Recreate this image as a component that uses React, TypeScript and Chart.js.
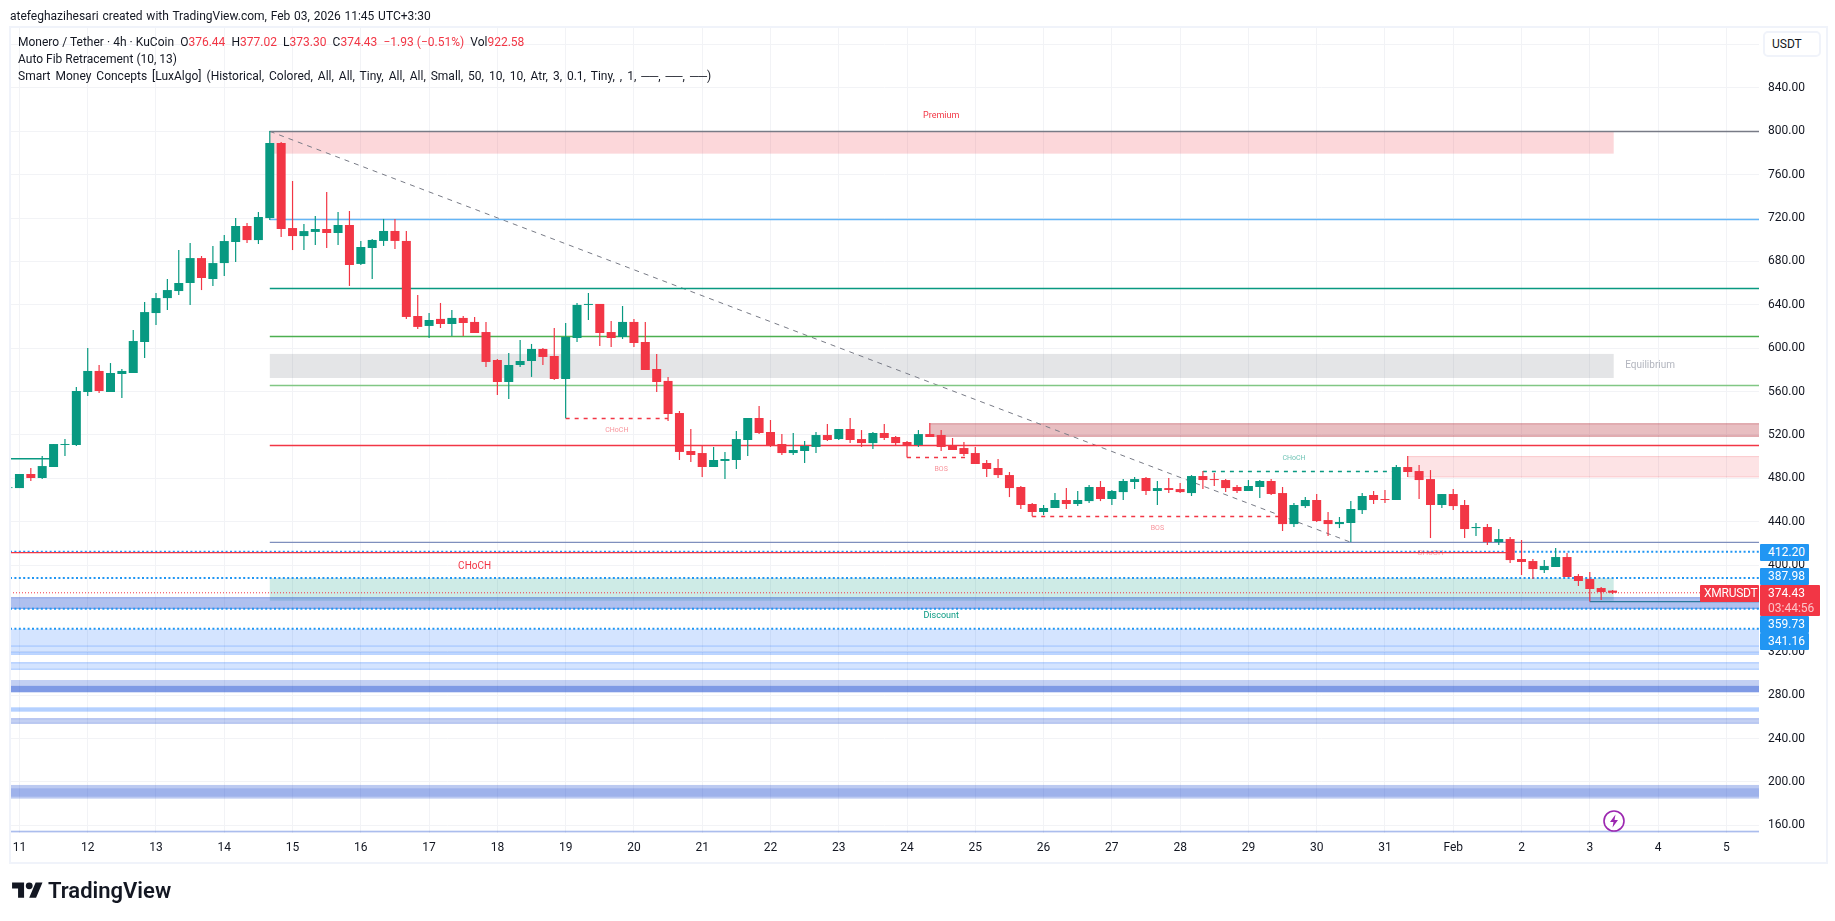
import { useEffect, useRef } from 'react'
import { Chart, registerables } from 'chart.js'

Chart.register(...registerables)

const FONT = "Roboto, 'Noto Sans', sans-serif"
const UP = '#089981'
const DOWN = '#F23645'

// 4h candles, first one sits just left of the "11" tick
const firstBar = -1
const opens = [471, 471, 484, 480.3, 490.4, 510.7, 510.7, 559.6, 579, 559.6, 576.2, 577.1, 605.7, 632.4, 646.2, 652.7, 660.1, 683.1, 663.8, 678.5, 697.9, 712.7, 699.7, 720, 789.2, 710.8, 703.4, 707.2, 709.9, 706.2, 713.6, 677.7, 692.4, 698.9, 708.1, 698.9, 629.7, 620.5, 627, 622.3, 627.9, 624.2, 614.9, 589.1, 568.8, 584.5, 588.2, 599.3, 592.8, 571.6, 609.4, 639.9, 640.8, 614.9, 610.3, 624.2, 605.7, 580.8, 569.8, 540.2, 505.2, 503.3, 490.4, 496, 496.9, 515.3, 535.6, 522.7, 511.6, 503.3, 505.2, 508.9, 519.9, 516.2, 525.5, 516.2, 512.5, 521.8, 518.1, 513.5, 510.7, 520.8, 519.9, 510.4, 507.9, 503.3, 494.1, 489.5, 483, 472, 456.3, 448.9, 452.6, 460, 456.3, 459, 472, 460.9, 467.3, 476.6, 480.3, 468.3, 471, 470.1, 466.4, 482.1, 479.3, 478.4, 472, 468.3, 472, 477.5, 466.4, 437.8, 454.4, 460, 441.5, 437.8, 438.8, 450.7, 464.6, 460.9, 460, 490.4, 486.7, 479.3, 455.4, 465.5, 455.4, 434.1, 435.1, 421.2, 424, 405.6, 403.7, 395.4, 398.2, 407.4, 389.9, 387.1, 378.8, 376.44]
const highs = [472, 484, 489.5, 500.5, 511.6, 516.2, 564.2, 600.1, 584.5, 586.3, 580.8, 616.7, 642.6, 650.9, 663.8, 690.5, 697, 685, 694.2, 704.4, 720, 715.4, 725.6, 800.3, 790.1, 754.2, 714.5, 721.9, 744.1, 725.6, 726.5, 698.9, 700.7, 719.2, 719.2, 708.1, 649.1, 632.5, 641.7, 635.2, 629.7, 628.8, 624.2, 590, 595.6, 607.6, 603.9, 600.2, 618.6, 623.2, 641.7, 650.9, 640.8, 625.1, 638.9, 627, 624.2, 594.7, 573.5, 542.1, 525.5, 509.8, 508.9, 504.2, 523.6, 535.6, 546.7, 533.8, 520.8, 521.8, 514.4, 522.7, 530.1, 525.5, 535.6, 524.5, 522.7, 530.1, 519, 514.4, 524.5, 531, 524.5, 517.2, 513.5, 508.9, 496.9, 497.8, 485.8, 472.9, 457.2, 455.4, 466.4, 471, 468.3, 473.8, 477.5, 469.2, 479.3, 481.2, 481.2, 477.5, 480.3, 475.6, 483, 486.7, 484.9, 479.3, 473.8, 478.4, 478.4, 479.3, 472, 457.2, 462.7, 465.5, 448.9, 444.3, 459, 466.4, 468.3, 469.2, 492.2, 500.5, 492.2, 487.6, 465.5, 470.1, 460, 438.8, 437.8, 433.2, 425.8, 423.1, 405.6, 404.6, 415.7, 411.1, 391.7, 393.6, 379.7, 377.02]
const lows = [471, 471, 477.5, 479.4, 490.4, 500.5, 509.8, 555.9, 558.7, 559.6, 554, 577.1, 590.9, 621.4, 635.2, 649, 639.8, 653.6, 657.3, 666.5, 679.5, 697, 696.1, 718.2, 702.5, 690.5, 690.5, 695.2, 692.4, 695.2, 657.4, 676.7, 663.8, 694.3, 691.5, 627, 617.7, 609.4, 618.6, 611.2, 611.2, 614, 582.7, 556.9, 553.2, 582.7, 573.5, 584.5, 570.7, 535.3, 605.7, 626, 602, 601.1, 608.5, 601.1, 579.9, 559.6, 532.9, 496.9, 495.1, 481.2, 490.4, 479.3, 488.6, 500.6, 520.8, 508.9, 501.5, 501.5, 494.1, 503.3, 514.4, 515.3, 512.5, 508.9, 507, 515.3, 510.7, 499.3, 508.9, 518.1, 505.2, 506.1, 500.6, 493.2, 481.2, 480.3, 462.7, 451.7, 445, 446.1, 452.6, 451.7, 454.4, 457.2, 459, 455.4, 460, 470.1, 464.6, 455.4, 466.4, 466.4, 463.7, 470.1, 472.9, 467.3, 466.4, 468.3, 461.8, 464.6, 431.4, 435.1, 452.6, 439.7, 426.8, 434.1, 421.2, 447.1, 456.3, 457.2, 460, 481.2, 460.9, 424.9, 452.6, 450.7, 424.9, 426.8, 418.5, 418.5, 401.9, 390.8, 387.1, 392.6, 398.2, 389, 380.7, 366.5, 367.7, 373.3]
const closes = [471.7, 484, 480.3, 491.3, 511.6, 511.6, 560.5, 579, 560.5, 577.1, 579, 606.6, 633.3, 646.2, 653.6, 660.1, 683.1, 664.7, 678.5, 698.8, 712.7, 699.7, 721, 789.2, 709.9, 703.4, 708, 709.9, 706.2, 713.6, 676.7, 693.3, 699.8, 708.1, 698.9, 628.8, 619.6, 626, 622.3, 627.9, 623.2, 614, 587.3, 568.8, 584.5, 588.2, 599.3, 591.9, 571.6, 610.3, 639.9, 640.8, 614, 609.4, 624.2, 604.8, 579.9, 568.8, 539.3, 504.3, 501.5, 490.4, 496.9, 497.8, 516.2, 535.6, 521.8, 510.7, 503.3, 506.1, 509.8, 519.9, 515.3, 525.5, 515.3, 512.5, 521.8, 517.2, 512.5, 510.7, 520.8, 518.1, 508.9, 506.1, 502.4, 493.2, 488.6, 483, 471, 455.4, 448.9, 452.6, 460, 456.3, 460, 472, 460.9, 468.3, 477.5, 479.3, 468.3, 471, 469.2, 467.3, 482.1, 478.4, 478.4, 471, 468.3, 472.9, 477.5, 465.5, 437.8, 455.4, 460, 440.6, 437.8, 439.7, 451.7, 463.7, 460, 460, 490.4, 485.8, 478.4, 455.4, 465.5, 454.4, 433.2, 435.1, 421.2, 424, 404.6, 402.8, 396.3, 399.1, 407.4, 389, 385.3, 377.9, 375.1, 374.43]

// time axis: one tick per day, six 4h bars apart
const dayTicks = [0, 6, 12, 18, 24, 30, 36, 42, 48, 54, 60, 66, 72, 78, 84, 90, 96, 102, 108, 114, 120, 126, 132, 138, 144, 150]
const dayLabels = ['11', '12', '13', '14', '15', '16', '17', '18', '19', '20', '21', '22', '23', '24', '25', '26', '27', '28', '29', '30', '31', 'Feb', '2', '3', '4', '5']
const priceTicks = [160, 200, 240, 280, 320, 360, 400, 440, 480, 520, 560, 600, 640, 680, 720, 760, 800, 840, 880]
const xMin = -0.83
const xMax = 152.87
const yMin = 152.9
const yMax = 896.2

// fib levels and structure lines
const fibPrices = [799.8, 718.7, 655, 610.8, 565.6, 510.2, 420.9]
const fibColors = ['#787b86', '#64b5f6', '#089981', '#4caf50', '#81c784', '#f23645', '#7f8fbd']
const dottedBlue = [412.2, 387.98, 359.73, 341.16]
const lastPrice = 374.43
const diagonalBars = [22, 117]
const diagonalPrices = [800, 421]
const redLineBars = [xMin, 130.7]
const redLinePrice = 411.5
const greenLineBars = [xMin, 3]
const greenLinePrice = 498.1
const swingLowBars = [138, xMax]
const swingLowPrice = 366.3

const dashStarts = [48, 78, 89, 104]
const dashEnds = [57, 83.4, 110.8, 121]
const dashPrices = [535.2, 499.2, 444.8, 486.3]
const dashColors = [DOWN, DOWN, DOWN, UP]

// shaded zones
const zoneStarts = [22, 22, 22, 80, 122, xMin, xMin, xMin, xMin, xMin, xMin, xMin, xMin, xMin, xMin, xMin, xMin, xMin]
const zoneEnds = [140.1, 140.1, 140.1, xMax, xMax, xMax, xMax, xMax, xMax, xMax, xMax, xMax, xMax, xMax, xMax, xMax, xMax, xMax]
const zoneTops = [800, 594.7, 388, 530.7, 500.5, 370.3, 341, 326, 320, 310.3, 294, 288.6, 268.8, 258.7, 197.2, 194.1, 155, 155]
const zoneBottoms = [779.4, 572.5, 367.1, 518.4, 480.9, 359.7, 317.3, 324.5, 317.3, 303.5, 282.7, 282.7, 264.8, 253.7, 184.6, 186.4, 153.5, 153.5]
const zoneFills = ['rgba(242,54,69,0.2)', 'rgba(120,123,134,0.2)', 'rgba(8,153,129,0.2)', 'rgba(178,40,51,0.3)', 'rgba(242,54,69,0.14)', 'rgba(33,80,210,0.36)', 'rgba(41,120,255,0.2)', 'rgba(41,120,255,0.2)', 'rgba(41,120,255,0.08)', 'rgba(41,120,255,0.2)', 'rgba(33,80,210,0.27)', 'rgba(33,80,210,0.42)', 'rgba(41,120,255,0.35)', 'rgba(33,80,210,0.27)', 'rgba(33,80,210,0.3)', 'rgba(33,80,210,0.2)', 'rgba(33,80,210,0.3)', 'rgba(33,80,210,0.1)']
const zoneBorders = ['', '', '', 'rgba(178,40,51,0.35)', 'rgba(242,54,69,0.15)', 'rgba(33,80,210,0.3)', '', '', 'rgba(41,120,255,0.2)', 'rgba(41,120,255,0.3)', '', '', '', 'rgba(33,80,210,0.2)', '', '', '', '']

const noteTexts = ['Premium', 'Equilibrium', 'Discount', 'CHoCH', 'BOS', 'BOS', 'CHoCH', 'CHoCH', 'CHoCH']
const noteBars = [81, 143.3, 81, 52.5, 81, 100, 40, 124, 112]
const notePrices = [814, 583.6, 353.3, 524.6, 488.3, 433.8, 398.5, 410.8, 498.4]
const noteColors = [DOWN, '#b2b5be', UP, 'rgba(242,54,69,0.55)', 'rgba(242,54,69,0.55)', 'rgba(242,54,69,0.55)', DOWN, 'rgba(242,54,69,0.45)', 'rgba(8,153,129,0.6)']
const noteSizes = [9, 10, 9, 7, 7, 7, 10, 8, 7]

const barIndex = opens.map((_, i) => firstBar + i)
const candleColors = opens.map((o, i) => (closes[i] >= o ? UP : DOWN))

function hline(x0: number, x1: number, y: number, color: string, extra = {}, order = 5) {
  return {
    type: 'line' as const,
    data: [{ x: x0, y }, { x: x1, y }],
    borderColor: color,
    borderWidth: 1.4,
    pointRadius: 0,
    order,
    ...extra,
  }
}

const zonesPlugin = {
  id: 'zones',
  beforeDatasetsDraw(chart: Chart) {
    const { ctx, chartArea, scales } = chart
    ctx.save()
    ctx.beginPath()
    ctx.rect(chartArea.left, chartArea.top, chartArea.width, chartArea.height)
    ctx.clip()
    zoneTops.forEach((top, i) => {
      const x0 = scales.x.getPixelForValue(zoneStarts[i])
      const x1 = scales.x.getPixelForValue(zoneEnds[i])
      const y0 = scales.y.getPixelForValue(top)
      const y1 = scales.y.getPixelForValue(zoneBottoms[i])
      ctx.fillStyle = zoneFills[i]
      ctx.fillRect(x0, y0, x1 - x0, y1 - y0)
      if (zoneBorders[i]) {
        ctx.fillStyle = zoneBorders[i]
        ctx.fillRect(x0, y0, x1 - x0, 1)
        ctx.fillRect(x0, y1 - 1, x1 - x0, 1)
      }
    })
    ctx.restore()
  },
  afterDatasetsDraw(chart: Chart) {
    const { ctx, scales } = chart
    ctx.save()
    ctx.textAlign = 'center'
    ctx.textBaseline = 'middle'
    noteTexts.forEach((text, i) => {
      ctx.font = `${noteSizes[i]}px ${FONT}`
      ctx.fillStyle = noteColors[i]
      ctx.fillText(text, scales.x.getPixelForValue(noteBars[i]), scales.y.getPixelForValue(notePrices[i]))
    })
    ctx.restore()
  },
}

const tagStyle = {
  position: 'absolute' as const,
  left: 1760,
  width: 49,
  height: 17,
  lineHeight: '17px',
  background: '#2196f3',
  color: '#fff',
  fontSize: 12,
  paddingLeft: 8,
  boxSizing: 'border-box' as const,
  borderRadius: 1,
}

const legendLine = {
  position: 'absolute' as const,
  left: 18,
  fontSize: 12,
  lineHeight: '17px',
  color: '#131722',
  whiteSpace: 'pre' as const,
}

export default function App() {
  const canvasRef = useRef<HTMLCanvasElement>(null)

  useEffect(() => {
    if (!canvasRef.current) return
    const chart = new Chart(canvasRef.current, {
      type: 'bar',
      plugins: [zonesPlugin],
      data: {
        datasets: [
          {
            data: barIndex.map((x, i) => ({ x, y: [Math.min(opens[i], closes[i]), Math.max(opens[i], closes[i])] })),
            backgroundColor: candleColors,
            barThickness: 9,
            inflateAmount: 0,
            grouped: false,
            order: 0,
          },
          {
            data: barIndex.map((x, i) => ({ x, y: [lows[i], highs[i]] })),
            backgroundColor: candleColors,
            barThickness: 1.2,
            inflateAmount: 0,
            grouped: false,
            order: 1,
          },
          ...fibPrices.map((p, i) => hline(22, xMax, p, fibColors[i])),
          ...dottedBlue.map((p) => hline(xMin, xMax, p, '#2196f3', { borderWidth: 2, borderDash: [2, 2.4] }, 3)),
          hline(xMin, xMax, lastPrice, DOWN, { borderWidth: 1, borderDash: [1, 2] }, 4),
          hline(redLineBars[0], redLineBars[1], redLinePrice, DOWN, {}, 2),
          hline(greenLineBars[0], greenLineBars[1], greenLinePrice, UP),
          hline(swingLowBars[0], swingLowBars[1], swingLowPrice, '#2b7a9e'),
          ...dashPrices.map((p, i) => hline(dashStarts[i], dashEnds[i], p, dashColors[i], { borderDash: [4, 5] })),
          {
            type: 'line' as const,
            data: diagonalBars.map((x, i) => ({ x, y: diagonalPrices[i] })),
            borderColor: '#787b86',
            borderWidth: 1,
            borderDash: [5, 5],
            pointRadius: 0,
            order: 5,
          },
        ] as any,
      },
      options: {
        animation: false,
        responsive: false,
        layout: { padding: { left: 10, right: 10, top: 27, bottom: 60 } },
        plugins: { legend: { display: false }, tooltip: { enabled: false } },
        scales: {
          x: {
            type: 'linear',
            min: xMin,
            max: xMax,
            offset: false,
            grid: { color: '#f2f3f6', offset: false, drawTicks: false },
            border: { display: false },
            afterBuildTicks: (s: any) => {
              s.ticks = dayTicks.map((value) => ({ value }))
            },
            afterFit: (s: any) => {
              s.height = 28
            },
            ticks: {
              autoSkip: false,
              maxRotation: 0,
              padding: 8,
              color: '#131722',
              font: { family: FONT, size: 12 },
              callback: (v: any) => dayLabels[dayTicks.indexOf(Number(v))],
            },
          },
          y: {
            position: 'right',
            min: yMin,
            max: yMax,
            grid: { color: '#f2f3f6', drawTicks: false },
            border: { display: false },
            afterBuildTicks: (s: any) => {
              s.ticks = priceTicks.map((value) => ({ value }))
            },
            afterFit: (s: any) => {
              s.width = 66
            },
            ticks: {
              padding: 9,
              color: '#131722',
              font: { family: FONT, size: 12 },
              callback: (v: any) => Number(v).toFixed(2),
            },
          },
        },
      },
    })
    return () => chart.destroy()
  }, [])

  return (
    <div style={{ position: 'absolute', left: 0, top: 0, width: 1835, height: 921, background: '#fff', fontFamily: FONT, overflow: 'hidden' }}>
      <canvas ref={canvasRef} width={1835} height={921} style={{ position: 'absolute', left: 0, top: 0 }} />
      <div style={{ position: 'absolute', left: 9, top: 26, width: 1815, height: 834, border: '2px solid #f0f3fa', boxSizing: 'content-box', pointerEvents: 'none' }} />
      <div style={{ ...legendLine, left: 10, top: 8, wordSpacing: 0.8 }}>atefeghazihesari created with TradingView.com, Feb 03, 2026 11:45 UTC+3:30</div>
      <div style={{ ...legendLine, top: 34, wordSpacing: 0.1 }}>
        {'Monero / Tether · 4h · KuCoin  O'}
        <span style={{ color: DOWN }}>376.44</span>
        {'  H'}
        <span style={{ color: DOWN }}>377.02</span>
        {'  L'}
        <span style={{ color: DOWN }}>373.30</span>
        {'  C'}
        <span style={{ color: DOWN }}>374.43  −1.93 (−0.51%)</span>
        {'  Vol'}
        <span style={{ color: DOWN }}>922.58</span>
      </div>
      <div style={{ ...legendLine, top: 51 }}>Auto Fib Retracement (10, 13)</div>
      <div style={{ ...legendLine, top: 68, wordSpacing: 2 }}>Smart Money Concepts [LuxAlgo] (Historical, Colored, All, All, Tiny, All, All, Small, 50, 10, 10, Atr, 3, 0.1, Tiny, , 1, ──, ──, ──)</div>

      <div style={{ position: 'absolute', left: 1763, top: 31, width: 58, height: 26, border: '2px solid #f0f3fa', borderRadius: 5, boxSizing: 'border-box', background: '#fff', fontSize: 12, lineHeight: '22px', color: '#131722', paddingLeft: 7 }}>USDT</div>

      <div style={{ ...tagStyle, top: 544 }}>412.20</div>
      <div style={{ ...tagStyle, top: 568 }}>387.98</div>
      <div style={{ ...tagStyle, top: 616 }}>359.73</div>
      <div style={{ ...tagStyle, top: 633 }}>341.16</div>
      <div style={{ ...tagStyle, left: 1700, top: 585, width: 59, paddingLeft: 4, background: DOWN, letterSpacing: -0.25 }}>XMRUSDT</div>
      <div style={{ ...tagStyle, top: 585, width: 60, height: 31, background: DOWN }}>
        <div>374.43</div>
        <div style={{ lineHeight: '13px', opacity: 0.7 }}>03:44:56</div>
      </div>

      <svg style={{ position: 'absolute', left: 1602, top: 809 }} width={24} height={24} viewBox="0 0 24 24">
        <circle cx={12} cy={12} r={10} fill="#fff" stroke="#9c27b0" strokeWidth={1.6} />
        <path d="M13.5 5.5 8 13h3.5l-1 5.5L16 11h-3.5z" fill="#9c27b0" />
      </svg>

      <svg style={{ position: 'absolute', left: 12, top: 879 }} width={31} height={24} viewBox="0 0 36 28">
        <path d="M14 22H7V11H0V4h14v18zM28 22h-8l7.5-18h8L28 22z" fill="#131722" />
        <circle cx={20} cy={8} r={4} fill="#131722" />
      </svg>
      <div style={{ position: 'absolute', left: 48, top: 876, fontSize: 22, fontWeight: 600, lineHeight: '30px', color: '#131722' }}>TradingView</div>
    </div>
  )
}
